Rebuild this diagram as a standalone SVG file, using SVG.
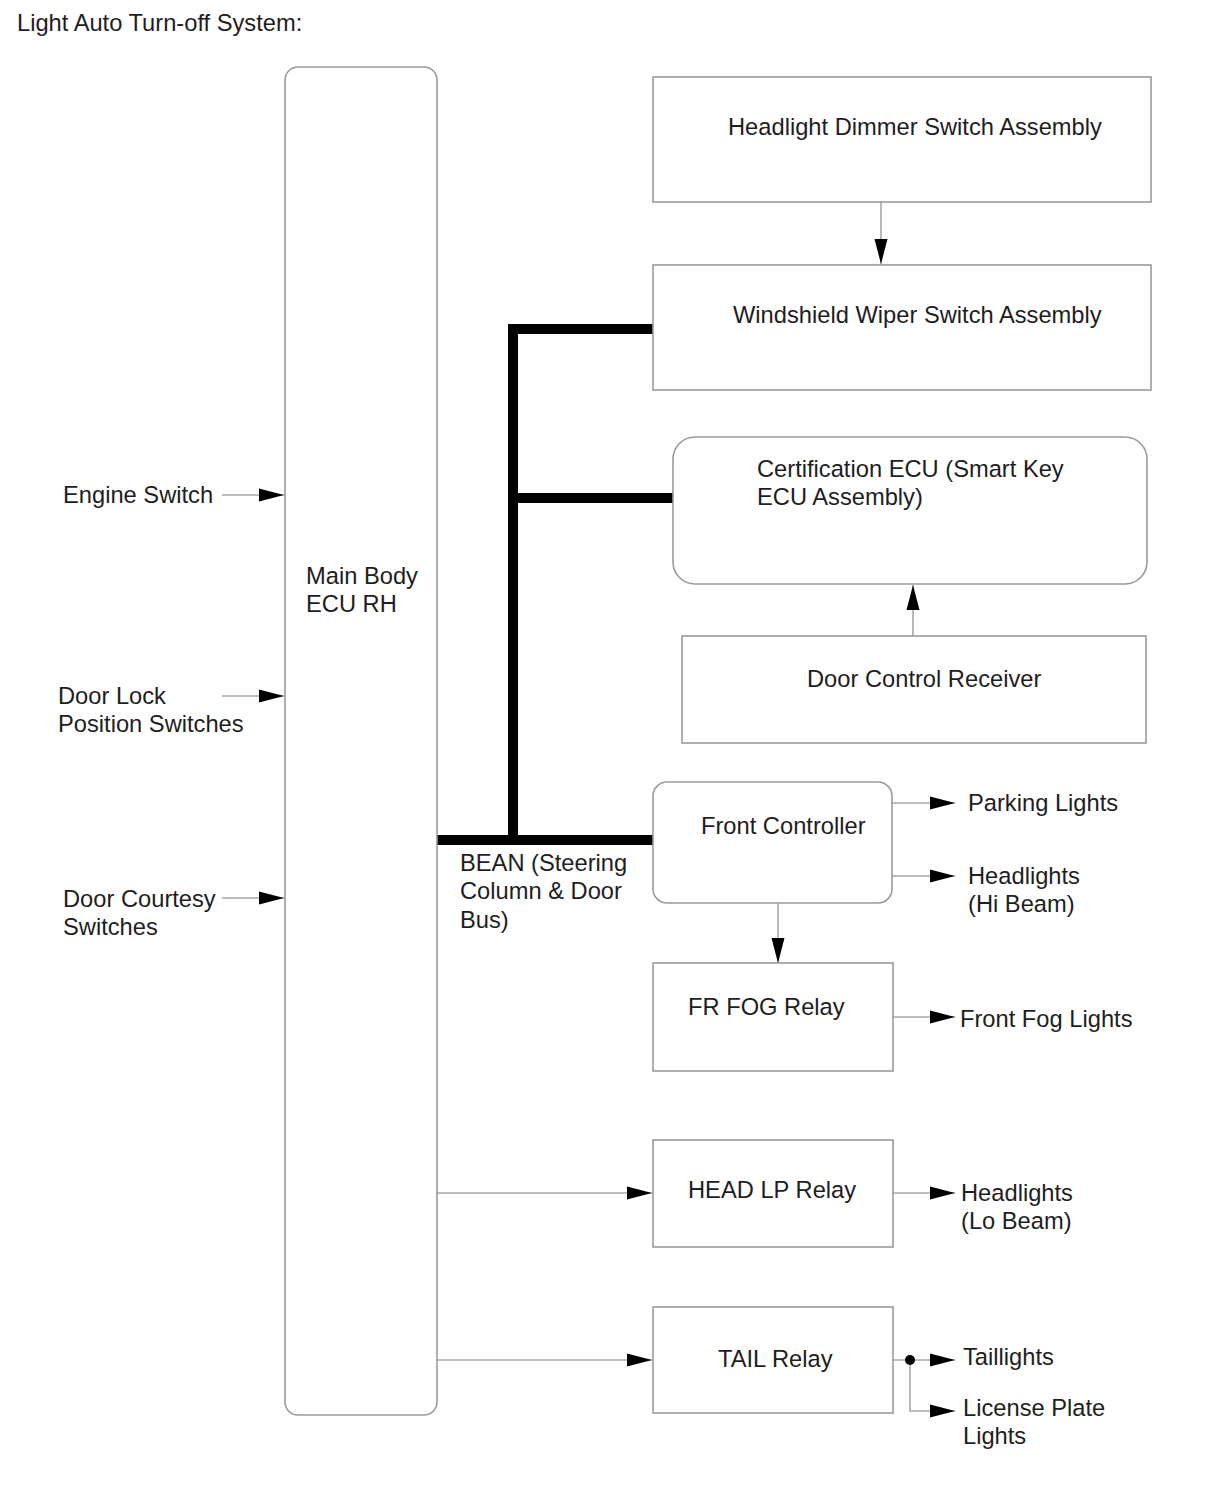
<svg xmlns="http://www.w3.org/2000/svg" width="1210" height="1498" viewBox="0 0 1210 1498">
<style>
text{font-family:"Liberation Sans",Arial,sans-serif;font-size:23.7px;fill:#1e1e1e}
.box{fill:#fff;stroke:#9a9a9a;stroke-width:1.6}
.ln{fill:none;stroke:#a8a8a8;stroke-width:1.6}
.bus{fill:none;stroke:#000;stroke-width:10;stroke-linecap:square}
</style>
<defs>
<marker id="ah" markerUnits="userSpaceOnUse" markerWidth="26" markerHeight="14" refX="25" refY="7" orient="auto">
<path d="M0,0.5 L25,7 L0,13.5 Z" fill="#000"/>
</marker>
</defs>
<rect width="1210" height="1498" fill="#fff"/>
<text x="17" y="31">Light Auto Turn-off System:</text>

<g id="connectors">
<path class="bus" d="M442,840 H648 M513,840 V329 H648 M513,498 H668"/>
<line class="ln" x1="881" y1="202" x2="881" y2="264" marker-end="url(#ah)"/>
<line class="ln" x1="913" y1="636" x2="913" y2="585" marker-end="url(#ah)"/>
<line class="ln" x1="222" y1="495" x2="284" y2="495" marker-end="url(#ah)"/>
<line class="ln" x1="222" y1="696" x2="284" y2="696" marker-end="url(#ah)"/>
<line class="ln" x1="222" y1="898" x2="284" y2="898" marker-end="url(#ah)"/>
<line class="ln" x1="892" y1="803" x2="955" y2="803" marker-end="url(#ah)"/>
<line class="ln" x1="892" y1="876" x2="955" y2="876" marker-end="url(#ah)"/>
<line class="ln" x1="778" y1="903" x2="778" y2="963" marker-end="url(#ah)"/>
<line class="ln" x1="893" y1="1017" x2="955" y2="1017" marker-end="url(#ah)"/>
<line class="ln" x1="437" y1="1193" x2="652" y2="1193" marker-end="url(#ah)"/>
<line class="ln" x1="893" y1="1193" x2="955" y2="1193" marker-end="url(#ah)"/>
<line class="ln" x1="437" y1="1360" x2="652" y2="1360" marker-end="url(#ah)"/>
<line class="ln" x1="893" y1="1360" x2="955" y2="1360" marker-end="url(#ah)"/>
<path class="ln" d="M910,1360 V1411 H955" marker-end="url(#ah)"/>
<circle cx="910" cy="1360" r="5" fill="#000"/>
</g>

<g id="main-body-ecu">
<rect class="box" x="285" y="67" width="152" height="1348" rx="13"/>
<text x="306" y="584">Main Body</text>
<text x="306" y="612">ECU RH</text>
</g>

<g id="engine-switch"><text x="63" y="503">Engine Switch</text></g>
<g id="door-lock"><text x="58" y="704">Door Lock</text><text x="58" y="732">Position Switches</text></g>
<g id="door-courtesy"><text x="63" y="907">Door Courtesy</text><text x="63" y="935">Switches</text></g>

<g id="headlight-dimmer">
<rect class="box" x="653" y="77" width="498" height="125"/>
<text x="728" y="135">Headlight Dimmer Switch Assembly</text>
</g>
<g id="wiper-switch">
<rect class="box" x="653" y="265" width="498" height="125"/>
<text x="733" y="323">Windshield Wiper Switch Assembly</text>
</g>
<g id="certification-ecu">
<rect class="box" x="673" y="437" width="474" height="147" rx="22"/>
<text x="757" y="477">Certification ECU (Smart Key</text>
<text x="757" y="505">ECU Assembly)</text>
</g>
<g id="door-control-receiver">
<rect class="box" x="682" y="636" width="464" height="107"/>
<text x="807" y="687">Door Control Receiver</text>
</g>
<g id="front-controller">
<rect class="box" x="653" y="782" width="239" height="121" rx="14"/>
<text x="701" y="834">Front Controller</text>
</g>
<g id="bean-label">
<text x="460" y="871">BEAN (Steering</text>
<text x="460" y="899">Column &amp; Door</text>
<text x="460" y="928">Bus)</text>
</g>
<g id="parking-lights"><text x="968" y="811">Parking Lights</text></g>
<g id="headlights-hi"><text x="968" y="884">Headlights</text><text x="968" y="912">(Hi Beam)</text></g>
<g id="fr-fog-relay">
<rect class="box" x="653" y="963" width="240" height="108"/>
<text x="688" y="1015">FR FOG Relay</text>
</g>
<g id="front-fog-lights"><text x="960" y="1027">Front Fog Lights</text></g>
<g id="head-lp-relay">
<rect class="box" x="653" y="1140" width="240" height="107"/>
<text x="688" y="1198">HEAD LP Relay</text>
</g>
<g id="headlights-lo"><text x="961" y="1201">Headlights</text><text x="961" y="1229">(Lo Beam)</text></g>
<g id="tail-relay">
<rect class="box" x="653" y="1307" width="240" height="106"/>
<text x="718" y="1367">TAIL Relay</text>
</g>
<g id="taillights"><text x="963" y="1365">Taillights</text></g>
<g id="license-plate"><text x="963" y="1416">License Plate</text><text x="963" y="1444">Lights</text></g>
</svg>
